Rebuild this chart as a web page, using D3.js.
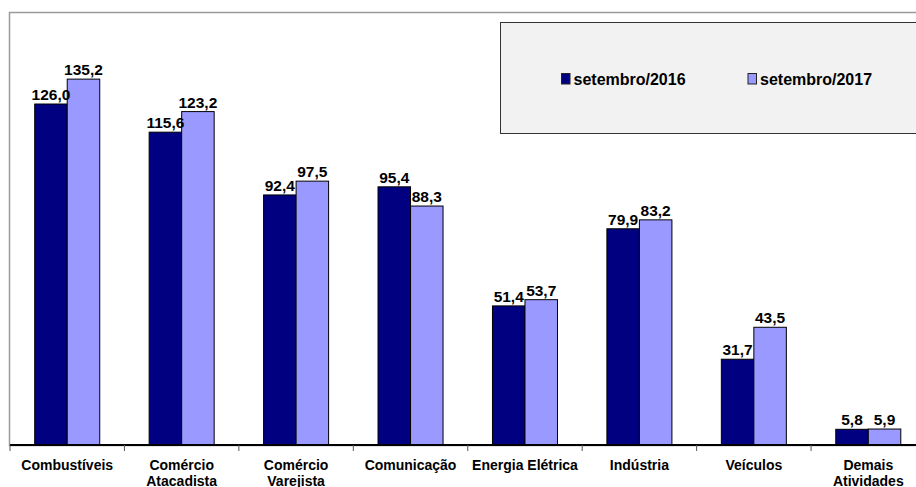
<!DOCTYPE html>
<html>
<head>
<meta charset="utf-8">
<script src="https://cdn.jsdelivr.net/npm/d3@7"></script>
<style>
  html, body { margin: 0; padding: 0; background: #fff; }
  svg { display: block; font-family: "Liberation Sans", Arial, sans-serif; font-weight: bold; }
</style>
</head>
<body>
<svg id="chart" width="916" height="487"></svg>
<script>
// Categories (lines of each axis label) and values per period
const categories = [
  ["Combustíveis"],
  ["Comércio", "Atacadista"],
  ["Comércio", "Varejista"],
  ["Comunicação"],
  ["Energia Elétrica"],
  ["Indústria"],
  ["Veículos"],
  ["Demais", "Atividades"]
];
const seriesNames = ["setembro/2016", "setembro/2017"];
const values2016 = [126.0, 115.6, 92.4, 95.4, 51.4, 79.9, 31.7, 5.8];
const values2017 = [135.2, 123.2, 97.5, 88.3, 53.7, 83.2, 43.5, 5.9];
const colors = ["#000080", "#9999ff"];

const catKeys = categories.map(c => c.join(" "));
const rows = catKeys.map((k, i) => ({ key: k, lines: categories[i], vals: [values2016[i], values2017[i]] }));

const svg = d3.select("#chart");
const fmt = v => v.toFixed(1).replace(".", ",");

const plotLeft = 10, plotTop = 12, baseY = 445;

const x0 = d3.scaleBand().domain(catKeys).range([plotLeft, 925.5]).padding(0);
const x1 = d3.scaleBand().domain(seriesNames).range([0, x0.bandwidth()])
  .paddingInner(0).paddingOuter(0.76);
const y = d3.scaleLinear().domain([0, 160]).range([baseY, plotTop]);

// plot area frame
svg.append("rect")
  .attr("x", plotLeft - 0.5).attr("y", plotTop + 0.5)
  .attr("width", 940).attr("height", baseY - plotTop)
  .attr("fill", "none").attr("stroke", "#9a9a9a").attr("stroke-width", 1.5);

// bars
const groups = svg.append("g").selectAll("g").data(rows).join("g")
  .attr("transform", d => `translate(${x0(d.key)},0)`);

groups.selectAll("rect").data(d => d.vals.map((v, i) => ({ s: seriesNames[i], v, i })))
  .join("rect")
  .attr("x", d => x1(d.s))
  .attr("y", d => y(d.v))
  .attr("width", x1.bandwidth())
  .attr("height", d => baseY - y(d.v))
  .attr("fill", d => colors[d.i])
  .attr("stroke", "#000").attr("stroke-width", 1);

groups.selectAll("text.val").data(d => d.vals.map((v, i) => ({ s: seriesNames[i], v, i })))
  .join("text").attr("class", "val")
  .attr("x", d => x1(d.s) + x1.bandwidth() / 2)
  .attr("y", d => y(d.v) - 4)
  .attr("text-anchor", "middle")
  .attr("font-size", 15.5)
  .attr("fill", "#000")
  .text(d => fmt(d.v));

// x axis baseline and category ticks
svg.append("line")
  .attr("x1", plotLeft).attr("x2", 916).attr("y1", baseY).attr("y2", baseY)
  .attr("stroke", "#000").attr("stroke-width", 2);

const tickXs = catKeys.map(k => x0(k));
svg.append("g").selectAll("line").data(tickXs).join("line")
  .attr("x1", d => d).attr("x2", d => d)
  .attr("y1", baseY).attr("y2", baseY + 6)
  .attr("stroke", "#555").attr("stroke-width", 1);

// category labels
const lab = svg.append("g").selectAll("text").data(rows).join("text")
  .attr("text-anchor", "middle")
  .attr("font-size", 14)
  .attr("fill", "#000")
  .attr("transform", d => `translate(${x0(d.key) + x0.bandwidth() / 2},0)`);
lab.selectAll("tspan").data(d => d.lines).join("tspan")
  .attr("x", 0)
  .attr("y", (d, i) => 470 + i * 16)
  .text(d => d);

// legend
const legend = svg.append("g");
legend.append("rect")
  .attr("x", 500.5).attr("y", 22.5).attr("width", 430).attr("height", 111)
  .attr("fill", "#f2f2f2").attr("stroke", "#333").attr("stroke-width", 1);

const legendX = [561, 747.5];
seriesNames.forEach((s, i) => {
  legend.append("rect")
    .attr("x", legendX[i] + 0.5).attr("y", 73.5).attr("width", 8.5).attr("height", 10.5)
    .attr("fill", colors[i]).attr("stroke", "#222").attr("stroke-width", 1);
  legend.append("text")
    .attr("x", legendX[i] + 12.5).attr("y", 85)
    .attr("font-size", 16).attr("fill", "#000")
    .text(s);
});
</script>
</body>
</html>
